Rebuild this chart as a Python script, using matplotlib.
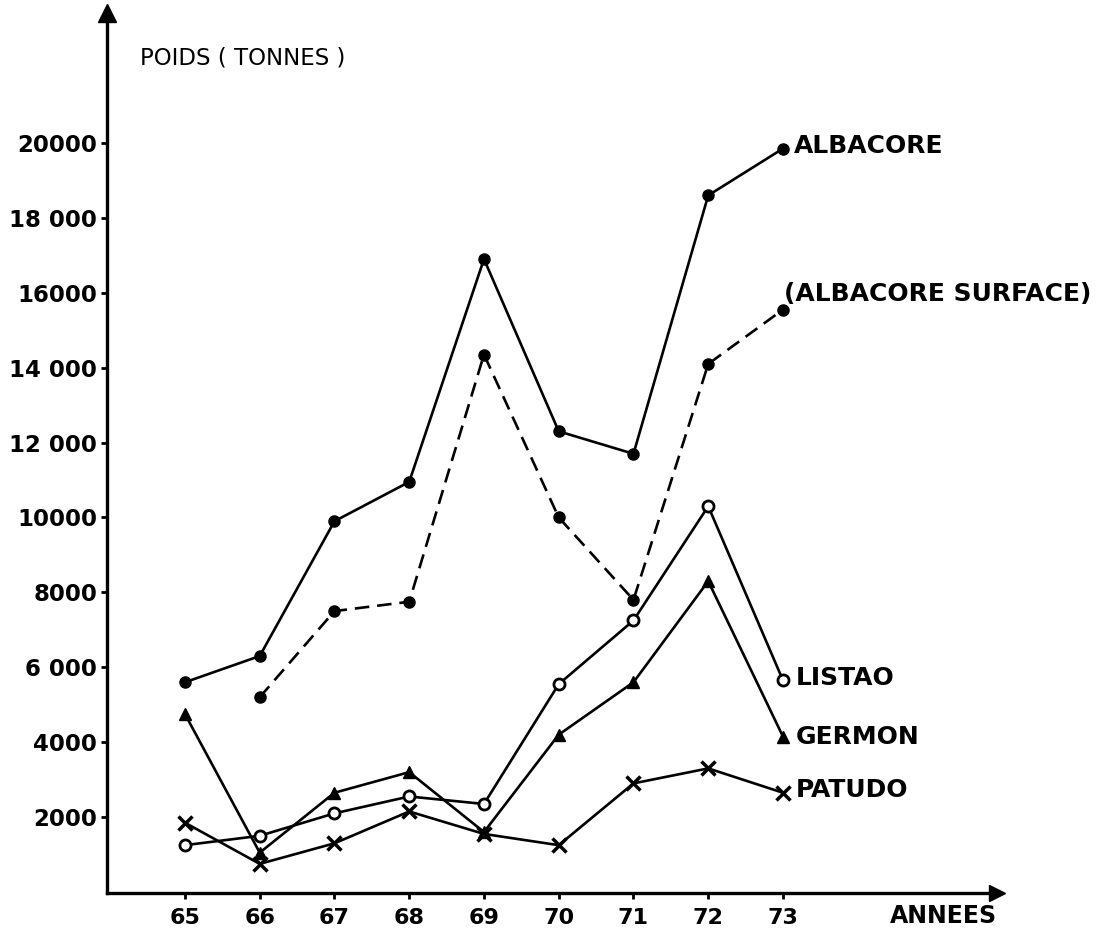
import matplotlib
matplotlib.use("Agg")
import matplotlib.pyplot as plt

# catches (tonnes)
years = [65, 66, 67, 68, 69, 70, 71, 72, 73]
albacore = [5600, 6300, 9900, 10950, 16900, 12300, 11700, 18600, 19850]
surface_years = [66, 67, 68, 69, 70, 71, 72, 73]
albacore_surface = [5200, 7500, 7750, 14350, 10000, 7800, 14100, 15550]
listao = [1250, 1500, 2100, 2550, 2350, 5550, 7250, 10300, 5650]
germon = [4750, 1050, 2650, 3200, 1600, 4200, 5600, 8300, 4150]
patudo = [1850, 750, 1300, 2150, 1550, 1250, 2900, 3300, 2650]

ytick_vals = [2000, 4000, 6000, 8000, 10000, 12000, 14000, 16000, 18000, 20000]
ytick_labels = ["2000", "4000", "6 000", "8000", "10000", "12 000", "14 000",
                "16000", "18 000", "20000"]

plt.rcParams['font.family'] = ['DejaVu Sans']

fig = plt.figure(figsize=(11.1, 9.3), dpi=100)
ax = fig.add_axes([107 / 1110, 37 / 930, 890 / 1110, 880 / 930])

lw = 1.9
ax.plot(years, albacore, '-', color='black', lw=lw, marker='o', ms=8)
ax.plot(surface_years, albacore_surface, color='black', lw=lw,
        linestyle=(0, (5.5, 3)), marker='o', ms=8)
ax.plot(years, listao, '-', color='black', lw=lw, marker='o', ms=8,
        mfc='white', mec='black', mew=2)
ax.plot(years, germon, '-', color='black', lw=lw, marker='^', ms=9)
ax.plot(years, patudo, '-', color='black', lw=lw, marker='x', ms=10, mew=2.5)

# labels at the end of each curve
lab = dict(fontsize=18, fontweight='bold', va='center', ha='left',
           textcoords='offset points')
ax.annotate("ALBACORE", xy=(73, albacore[-1]), xytext=(8, 2), **lab)
ax.annotate("(ALBACORE SURFACE)", xy=(73, albacore_surface[-1]), xytext=(1, 11), **lab)
ax.annotate("LISTAO", xy=(73, listao[-1]), xytext=(9, 2), **lab)
ax.annotate("GERMON", xy=(73, germon[-1]), xytext=(9, 0), **lab)
ax.annotate("PATUDO", xy=(73, patudo[-1]), xytext=(9, 2), **lab)

ax.set_xlim(63.957, 75.863)
ax.set_ylim(-27, 23470)

ax.set_xticks(years)
ax.set_xticklabels([str(y) for y in years], fontsize=16, fontweight='bold')
ax.set_yticks(ytick_vals)
ax.set_yticklabels(ytick_labels, fontsize=16.5, fontweight='bold')
ax.tick_params(axis='both', direction='out', length=4, width=2)
ax.tick_params(axis='x', pad=7)
ax.tick_params(axis='y', pad=3)

for s in ['top', 'right']:
    ax.spines[s].set_visible(False)
for s in ['left', 'bottom']:
    ax.spines[s].set_linewidth(2.4)

# arrow heads on the axes
ax.plot(0, 1, '^k', ms=13, transform=ax.transAxes, clip_on=False)
ax.plot(1, 0, '>k', ms=11, transform=ax.transAxes, clip_on=False)

fig.text(140 / 1110, 1 - 58 / 930, "POIDS ( TONNES )", fontsize=16.5,
         va='center', ha='left')
fig.text(997 / 1110, 1 - 916 / 930, "ANNEES", fontsize=17, fontweight='bold',
         va='center', ha='right')

fig.savefig("out.png", dpi=100, facecolor='white')
